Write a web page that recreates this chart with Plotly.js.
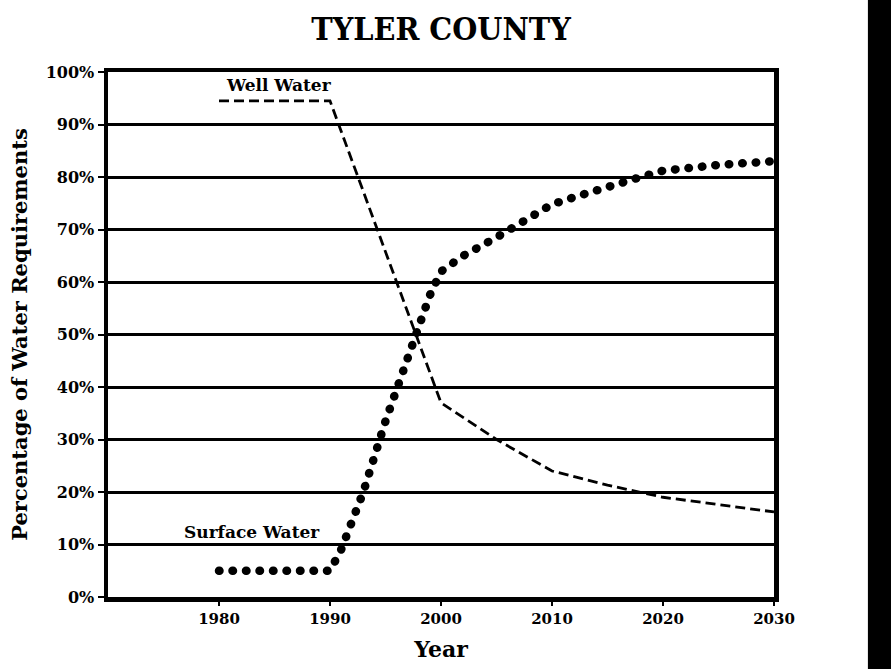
<!DOCTYPE html>
<html>
<head>
<meta charset="utf-8">
<script src="https://cdn.plot.ly/plotly-3.0.1.min.js"></script>
<style>
html, body { margin:0; padding:0; background:#fff; }
#chart { width:891px; height:669px; }
.scatterlayer .trace:nth-child(2) .js-line { stroke-linecap: round !important; }
</style>
</head>
<body>
<div id="chart"></div>
<script>
// Data
const wellYears = [1980, 1990, 2000, 2005, 2010, 2015, 2020, 2030];
const wellPct   = [94.5, 94.5, 37, 30, 24, 21.3, 19, 16.2];

const surfaceYears = [1980, 1990, 1991, 1993, 1995, 1997, 1999, 2000, 2002, 2005, 2008, 2010, 2013, 2015, 2018, 2020, 2023, 2025, 2030];
const surfacePct   = [5, 5, 9, 20, 33.5, 46, 57.5, 62, 65, 68.5, 72.5, 74.8, 76.8, 78.2, 80, 81.2, 81.9, 82.3, 83];

const xTicks = [1980, 1990, 2000, 2010, 2020, 2030];
const yTicks = [0, 10, 20, 30, 40, 50, 60, 70, 80, 90, 100];
const yTickText = ['0%', '10%', '20%', '30%', '40%', '50%', '60%', '70%', '80%', '90%', '100%'];

const titleText = 'TYLER COUNTY';
const xTitle = 'Year';
const yTitle = 'Percentage of Water Requirements';
const wellLabel = 'Well Water';
const surfaceLabel = 'Surface Water';

const serif = 'DejaVu Serif, Liberation Serif, serif';

const traces = [
  {
    x: wellYears, y: wellPct, type: 'scatter', mode: 'lines',
    line: { color: '#000', width: 2.8, dash: '10px,5px' },
    hoverinfo: 'skip', showlegend: false
  },
  {
    x: surfaceYears, y: surfacePct, type: 'scatter', mode: 'lines',
    line: { color: '#000', width: 8.5, dash: '0.5px,13px' },
    hoverinfo: 'skip', showlegend: false
  }
];

const layout = {
  width: 891, height: 669,
  paper_bgcolor: '#fff', plot_bgcolor: '#fff',
  margin: { l: 108, r: 117, t: 72, b: 72 },
  showlegend: false,
  title: {
    text: titleText, x: 0.5, xanchor: 'center', xref: 'paper',
    y: 0.957, yref: 'container', yanchor: 'middle',
    font: { family: 'DejaVu Serif Condensed, DejaVu Serif, serif', size: 32, color: '#000', weight: 'bold' }
  },
  xaxis: {
    range: [1970, 2030], tickvals: xTicks, ticktext: xTicks.map(String),
    showgrid: false, zeroline: false,
    showline: true, linewidth: 4.5, linecolor: '#000', mirror: true,
    ticks: 'outside', ticklen: 4, tickwidth: 2, tickcolor: '#000',
    tickfont: { family: serif, size: 15, color: '#000', weight: 'bold' },
    title: { text: xTitle, standoff: 16, font: { family: serif, size: 22, color: '#000', weight: 'bold' } }
  },
  yaxis: {
    range: [0, 100], tickvals: yTicks, ticktext: yTickText,
    showgrid: true, gridcolor: '#000', gridwidth: 3, zeroline: false,
    showline: true, linewidth: 4.5, linecolor: '#000', mirror: true,
    ticks: 'outside', ticklen: 6, tickwidth: 2, tickcolor: '#000',
    tickfont: { family: serif, size: 16, color: '#000', weight: 'bold' },
    title: { text: yTitle, standoff: 14, font: { family: serif, size: 21, color: '#000', weight: 'bold' } }
  },
  annotations: [
    { text: wellLabel, x: 1985.4, y: 97.6, xref: 'x', yref: 'y', showarrow: false,
      font: { family: serif, size: 17, color: '#000', weight: 'bold' } },
    { text: surfaceLabel, x: 1983, y: 12.3, xref: 'x', yref: 'y', showarrow: false,
      font: { family: serif, size: 17, color: '#000', weight: 'bold' } }
  ],
  shapes: [
    { type: 'rect', xref: 'paper', yref: 'paper', x0: 1.141, x1: 1.2, y0: -0.2, y1: 1.2,
      fillcolor: '#000', line: { width: 0 }, layer: 'above' }
  ]
};

Plotly.newPlot('chart', traces, layout, { staticPlot: true, displayModeBar: false });
</script>
</body>
</html>
